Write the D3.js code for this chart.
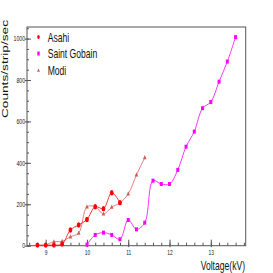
<!DOCTYPE html>
<html>
<head>
<meta charset="utf-8">
<script src="https://cdn.jsdelivr.net/npm/d3@7"></script>
<style>
  body { margin: 0; background: #fff; }
  svg { display: block; }
  text { font-family: "Liberation Sans", Arial, sans-serif; }
</style>
</head>
<body>
<svg id="chart"></svg>
<script>
// voltage in kV, rate in counts/strip/sec
var asahiV = [8.8, 9.0, 9.2, 9.4, 9.6, 9.8, 10.0, 10.2, 10.4, 10.6, 10.8];
var asahiRate = [3, 3, 3, 8, 76, 100, 127, 188, 179, 256, 208];

var sgV = [10.0, 10.2, 10.4, 10.6, 10.8, 11.0, 11.2, 11.4, 11.6, 11.8, 12.0, 12.2, 12.4, 12.6, 12.8, 13.0, 13.2, 13.4, 13.6];
var sgRate = [5, 52, 63, 52, 31, 124, 79, 111, 314, 298, 298, 366, 478, 551, 664, 694, 792, 889, 1007];

var modiV = [9.0, 9.2, 9.4, 9.6, 9.8, 10.0, 10.2, 10.4, 10.6, 10.8, 11.0, 11.2, 11.4];
var modiRate = [3, 19, 21, 43, 61, 187, 189, 153, 186, 207, 250, 342, 425];

var seriesNames = ["Asahi", "Saint Gobain", "Modi"];
var xMajor = [9, 10, 11, 12, 13];
var yMajor = [0, 200, 400, 600, 800, 1000];

var W = 273, H = 273;
var margin = { top: 27, right: 27.3, bottom: 27.3, left: 27 };
var width = W - margin.left - margin.right;
var height = H - margin.top - margin.bottom;
var squeeze = 0.66;   // the original canvas was wider, text looks narrow

var svg = d3.select("#chart").attr("width", W).attr("height", H);
var g = svg.append("g")
    .attr("transform", "translate(" + margin.left + "," + margin.top + ")");

var x = d3.scaleLinear().domain([8.548, 13.845]).range([0, width]);
var y = d3.scaleLinear().domain([0, 1056]).range([height, 0]);

var xMinor = d3.range(8.6, 13.81, 0.2).map(function(d) { return +d.toFixed(1); });
var yMinor = d3.range(0, 1051, 50);

var axisColor = "#555";

// minor ticks
g.append("g")
    .attr("transform", "translate(0," + height + ")")
    .call(d3.axisBottom(x).tickValues(xMinor).tickSize(-3).tickFormat(""))
    .call(function(a) { a.select(".domain").remove(); a.selectAll("line").attr("stroke", axisColor); });
g.append("g")
    .call(d3.axisLeft(y).tickValues(yMinor).tickSize(-2).tickFormat(""))
    .call(function(a) { a.select(".domain").remove(); a.selectAll("line").attr("stroke", axisColor); });

// major ticks + labels
var xAx = g.append("g")
    .attr("transform", "translate(0," + height + ")")
    .call(d3.axisBottom(x).tickValues(xMajor).tickSize(-6).tickFormat(d3.format("d")));
xAx.select(".domain").remove();
xAx.selectAll("line").attr("stroke", axisColor).attr("y1", 1.5);
xAx.selectAll("text")
    .attr("font-size", 7.4).attr("fill", "#222")
    .attr("y", 3.6).attr("dy", "0.71em")
    .attr("transform", "scale(" + squeeze + ",1)");

var yAx = g.append("g")
    .call(d3.axisLeft(y).tickValues(yMajor).tickSize(-4).tickFormat(d3.format("d")));
yAx.select(".domain").remove();
yAx.selectAll("line").attr("stroke", axisColor).attr("x1", -2);
yAx.selectAll("text")
    .attr("font-size", 7).attr("fill", "#222")
    .attr("x", -2.5)
    .attr("transform", "scale(0.75,1)");

// frame
g.append("rect")
    .attr("width", width).attr("height", height)
    .attr("fill", "none").attr("stroke", axisColor).attr("stroke-width", 1);

// axis titles
svg.append("text")
    .attr("transform", "translate(8.2,20) scale(" + squeeze + ",1) rotate(-90)")
    .attr("text-anchor", "end")
    .attr("font-size", 13.7)
    .attr("fill", "#111")
    .text("Counts/strip/sec");

svg.append("text")
    .attr("transform", "translate(245,270) scale(" + squeeze + ",1)")
    .attr("text-anchor", "end")
    .attr("font-size", 13)
    .attr("fill", "#111")
    .text("Voltage(kV)");

// curves
var line = d3.line()
    .x(function(d) { return x(d.v); })
    .y(function(d) { return y(d.r); })
    .curve(d3.curveCatmullRom.alpha(0.5));

function pack(vs, rs) {
  return vs.map(function(v, i) { return { v: v, r: rs[i] }; });
}

var asahi = pack(asahiV, asahiRate);
var sg = pack(sgV, sgRate);
var modi = pack(modiV, modiRate);

var cRed = "#ff0000", cMag = "#ff00ff", cModi = "#d45a5a";

g.append("path").datum(modi)
    .attr("fill", "none").attr("stroke", cModi).attr("stroke-opacity", 0.75)
    .attr("stroke-width", 1).attr("d", line);
g.append("path").datum(sg)
    .attr("fill", "none").attr("stroke", cMag).attr("stroke-opacity", 0.8)
    .attr("stroke-width", 1).attr("d", line);
g.append("path").datum(asahi)
    .attr("fill", "none").attr("stroke", cRed).attr("stroke-opacity", 0.8)
    .attr("stroke-width", 1).attr("d", line);

var tri = "M0,-2.6L1.8,1.6L-1.8,1.6Z";

g.selectAll(".modi").data(modi).enter().append("path")
    .attr("class", "modi")
    .attr("transform", function(d) { return "translate(" + x(d.v) + "," + y(d.r) + ")"; })
    .attr("d", tri).attr("fill", cModi);

g.selectAll(".sg").data(sg).enter().append("rect")
    .attr("class", "sg")
    .attr("x", function(d) { return x(d.v) - 1.5; })
    .attr("y", function(d) { return y(d.r) - 2; })
    .attr("width", 3).attr("height", 4)
    .attr("fill", cMag);

g.selectAll(".asahi").data(asahi).enter().append("ellipse")
    .attr("class", "asahi")
    .attr("cx", function(d) { return x(d.v); })
    .attr("cy", function(d) { return y(d.r); })
    .attr("rx", 1.9).attr("ry", 2.7)
    .attr("fill", cRed);

// legend
var legY = [37, 53.5, 70.5];
var leg = svg.append("g");
leg.append("ellipse").attr("cx", 38.5).attr("cy", legY[0]).attr("rx", 1.3).attr("ry", 2).attr("fill", cRed);
leg.append("rect").attr("x", 37.3).attr("y", legY[1] - 2).attr("width", 2.4).attr("height", 4).attr("fill", cMag);
leg.append("path").attr("transform", "translate(38.5," + legY[2] + ") scale(0.8)").attr("d", tri).attr("fill", cModi);

leg.selectAll(".lt").data(seriesNames).enter().append("text")
    .attr("class", "lt")
    .attr("transform", function(d, i) { return "translate(47.7," + (legY[i] + 4.7) + ") scale(" + squeeze + ",1)"; })
    .attr("font-size", 13)
    .attr("fill", "#111")
    .text(function(d) { return d; });
</script>
</body>
</html>
